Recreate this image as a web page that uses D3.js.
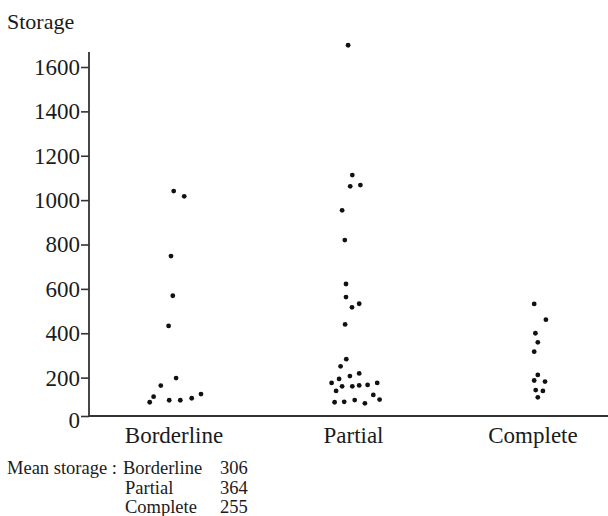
<!DOCTYPE html>
<html>
<head>
<meta charset="utf-8">
<script src="https://cdn.jsdelivr.net/npm/d3@7"></script>
<style>
  body { margin: 0; background: #fff; }
  text { font-family: "Liberation Serif", "Times New Roman", serif; fill: #1b1b1b; }
</style>
</head>
<body>
<script>
'use strict';

// categories on the x axis
let categories = ["Borderline", "Partial", "Complete"];

// storage values, one list per group
let borderlineValues = [1041, 1017, 748, 569, 433, 198, 164, 114, 89, 98, 98, 107, 126];
let partialValues = [1698, 1113, 1062, 1068, 954, 820, 622, 563, 517, 533, 440, 283, 251, 219,
  207, 194, 176, 161, 161, 165, 167, 176, 140, 122, 101, 89, 91, 99, 84];
let completeValues = [532, 461, 400, 359, 317, 212, 187, 182, 144, 140, 111];

// horizontal jitter of each dot (-1 .. 1 of the jitter width)
let borderlineJitter = [-0.01, 0.34, -0.1, -0.04, -0.18, 0.07, -0.44, -0.68, -0.81, -0.16, 0.21, 0.59, 0.9];
let partialJitter = [-0.18, -0.04, -0.11, 0.23, -0.38, -0.29, -0.25, -0.25, -0.05, 0.19, -0.28, -0.24,
  -0.43, 0.19, -0.12, -0.48, -0.73, -0.38, -0.04, 0.19, 0.47, 0.79, -0.58, 0.66, 0.87, -0.63, -0.31, 0.04, 0.38];
let completeJitter = [0.04, 0.43, 0.08, 0.16, 0.04, 0.16, 0.04, 0.4, 0.09, 0.33, 0.16];

// y axis ticks
let yTicks = [0, 200, 400, 600, 800, 1000, 1200, 1400, 1600];

// mean storage note under the chart
let meanLabels = ["Borderline", "Partial", "Complete"];
let meanValues = [306, 364, 255];

(function() {

  window.onload = function() {
    let svg = d3.select('body')
      .append('svg')
      .attr('width', 608)
      .attr('height', 516);

    let groups = [borderlineValues, partialValues, completeValues];
    let jitters = [borderlineJitter, partialJitter, completeJitter];

    // flatten into rows for the dots
    let rows = [];
    groups.forEach((vals, i) => {
      vals.forEach((v, j) => {
        rows.push({cat: categories[i], value: v, jitter: jitters[i][j]});
      });
    });

    let axisLeftX = 89;
    let axisBottomY = 416;

    let xScale = d3.scalePoint()
      .domain(categories)
      .range([174, 533]);

    let jitterScale = d3.scaleLinear()
      .domain([-1, 1])
      .range([-30, 30]);

    let yScale = d3.scaleLinear()
      .domain([0, 1600])
      .range([422, 67]);

    // y axis ticks and labels
    let yAxis = d3.axisLeft(yScale)
      .tickValues(yTicks)
      .tickFormat(d3.format('d'))
      .tickSize(8)
      .tickPadding(1)
      .tickSizeOuter(0);

    let gy = svg.append('g')
      .attr('transform', 'translate(' + axisLeftX + ', 0)')
      .attr('font-family', null)
      .call(yAxis);
    gy.select('.domain').remove();
    gy.selectAll('.tick line').attr('stroke', '#333').attr('stroke-width', 1.6);
    gy.selectAll('.tick text')
      .style('font-size', '23px')
      .style('font-family', '"Liberation Serif", serif')
      .attr('fill', '#1b1b1b');

    // the zero tick sits on the x axis line
    gy.selectAll('.tick')
      .filter((d) => d == 0)
      .each(function() {
        d3.select(this).select('line').attr('y1', -6).attr('y2', -6);
        d3.select(this).select('text').attr('y', -2);
      });

    // axis lines
    svg.append('line')
      .attr('x1', axisLeftX).attr('x2', axisLeftX)
      .attr('y1', 52).attr('y2', axisBottomY)
      .attr('stroke', '#333')
      .attr('stroke-width', 1.8);

    svg.append('line')
      .attr('x1', axisLeftX).attr('x2', 608)
      .attr('y1', axisBottomY).attr('y2', axisBottomY)
      .attr('stroke', '#333')
      .attr('stroke-width', 1.8);

    // category labels
    svg.selectAll('.catLabel')
      .data(categories)
      .enter()
      .append('text')
      .attr('class', 'catLabel')
      .attr('x', (d) => xScale(d))
      .attr('y', 443)
      .attr('text-anchor', 'middle')
      .style('font-size', '23px')
      .text((d) => d);

    // dots
    svg.selectAll('.dot')
      .data(rows)
      .enter()
      .append('circle')
      .attr('class', 'dot')
      .attr('cx', (d) => xScale(d.cat) + jitterScale(d.jitter))
      .attr('cy', (d) => yScale(d.value))
      .attr('r', 2.4)
      .attr('fill', '#111');

    // axis title
    svg.append('text')
      .attr('x', 7)
      .attr('y', 29)
      .style('font-size', '22px')
      .text('Storage');

    // mean storage note
    svg.append('text')
      .attr('x', 7)
      .attr('y', 474)
      .style('font-size', '18.5px')
      .text('Mean storage :');

    meanLabels.forEach((label, i) => {
      svg.append('text')
        .attr('x', i == 0 ? 123 : 125)
        .attr('y', 474 + i * 19.5)
        .style('font-size', '18.5px')
        .text(label);
      svg.append('text')
        .attr('x', 220)
        .attr('y', 474 + i * 19.5)
        .style('font-size', '18.5px')
        .text(meanValues[i]);
    });
  }
})();
</script>
</body>
</html>
